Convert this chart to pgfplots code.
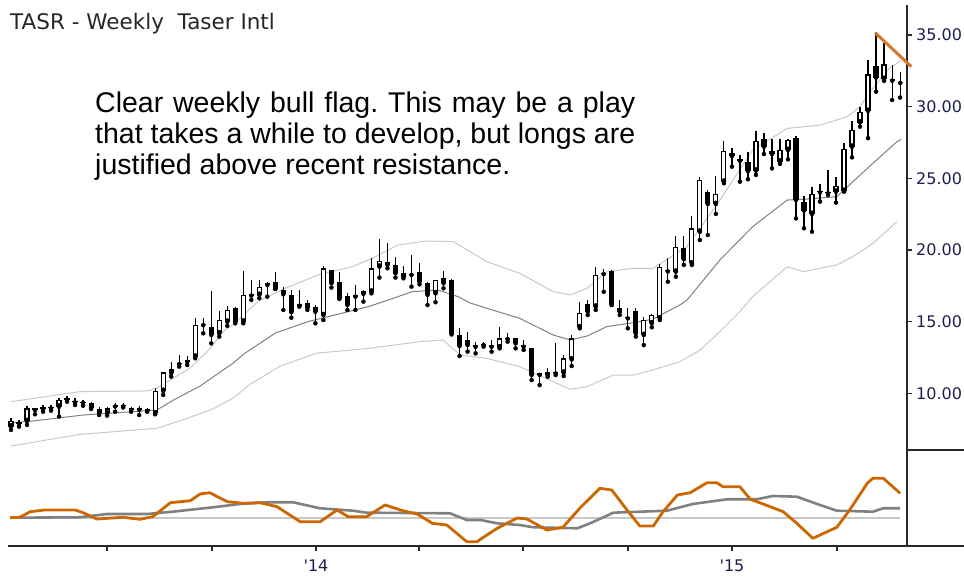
\documentclass[border=0pt]{standalone}
\usepackage{pgfplots}
\pgfplotsset{compat=1.18}
\usepackage{pgfplotstable}
\usepackage{fontspec}
\setmainfont{DejaVu Sans}
\newfontfamily\dvs{DejaVu Sans}
\newfontfamily\arial{Liberation Sans}
\frenchspacing

\definecolor{orng}{RGB}{204,102,0}
\definecolor{trend}{RGB}{214,118,40}
\definecolor{midg}{RGB}{128,128,128}
\definecolor{lightg}{RGB}{200,200,200}
\definecolor{labc}{RGB}{30,30,80}
\definecolor{axc}{RGB}{40,40,40}

% up (hollow) candles
\pgfplotstableread{
k O H L C
0 7.67 8.25 7.44 8.06
2 8.06 9.13 7.79 8.95
6 9.06 9.69 8.37 9.53
12 8.60 9.06 8.44 8.95
18 8.60 10.39 8.53 10.16
19 10.16 11.51 9.88 11.46
23 12.55 15.23 12.44 14.76
26 14.18 15.74 13.95 15.11
27 14.98 16.06 14.70 15.80
29 15.00 18.53 14.88 16.86
31 16.86 17.90 16.63 17.44
39 15.45 18.88 15.11 18.72
45 17.09 19.41 16.97 18.72
46 18.83 20.76 18.07 19.23
53 16.97 17.90 16.35 17.90
61 13.20 14.64 13.13 13.83
69 11.43 12.67 11.20 12.43
70 12.36 14.06 11.90 13.83
71 14.60 16.39 14.53 15.62
73 16.04 18.83 15.81 18.25
79 14.06 15.34 13.36 15.11
80 14.88 15.53 14.60 15.46
81 15.23 19.02 15.11 18.83
83 18.48 20.97 18.13 20.22
85 19.06 22.37 18.95 21.51
86 21.27 25.06 20.69 24.88
88 23.20 25.16 22.51 23.90
89 24.76 27.62 24.65 26.93
93 25.53 28.32 25.23 27.62
96 26.16 27.72 26.00 26.97
97 26.97 27.72 26.32 27.67
100 22.51 24.37 21.27 23.90
103 24.06 25.07 23.30 24.46
104 24.12 27.48 24.06 27.03
105 27.20 29.00 26.46 28.39
106 28.89 30.00 28.60 29.62
107 29.70 33.25 27.80 32.25
109 31.93 34.42 31.79 32.95
}\candup

% down (filled) candles and dojis
\pgfplotstableread{
k O H L C
1 7.96 8.13 7.67 7.86
3 8.95 8.98 8.53 8.82
4 9.05 9.18 8.71 8.90
5 9.04 9.18 8.78 8.94
7 9.65 9.83 9.41 9.55
8 9.46 9.65 9.18 9.36
9 9.42 9.53 9.13 9.32
10 9.30 9.41 8.90 9.00
11 8.90 9.06 8.48 8.62
13 9.17 9.30 8.71 9.07
14 9.20 9.30 9.00 9.08
15 8.94 9.06 8.71 8.84
16 8.94 9.13 8.48 8.84
17 8.87 8.95 8.71 8.77
20 11.67 12.16 11.16 11.40
21 12.13 12.67 11.86 12.03
22 12.29 12.60 11.97 12.19
24 14.85 15.27 14.18 14.75
25 14.65 17.13 13.48 14.07
28 15.93 16.04 14.88 15.00
30 16.91 17.90 16.51 16.81
32 17.67 17.79 16.74 17.55
33 17.79 18.44 17.28 17.28
34 17.20 17.44 15.81 16.90
35 16.86 17.20 15.27 15.65
36 16.21 17.20 16.04 16.11
37 16.28 16.51 15.81 15.97
38 16.04 16.16 14.88 15.69
40 18.60 18.62 17.37 17.67
41 17.79 18.48 16.58 16.63
42 16.79 16.97 15.81 16.16
43 16.84 17.55 15.81 16.74
44 17.14 17.20 16.39 16.93
47 19.14 20.46 18.72 18.95
48 18.95 19.53 18.07 18.37
49 18.37 18.90 18.02 18.14
50 18.35 19.65 17.44 18.25
51 18.48 19.07 17.60 17.79
52 17.67 17.79 16.16 16.86
54 18.02 18.53 17.32 17.67
55 17.90 17.95 14.10 14.18
56 14.06 14.53 12.60 13.29
57 13.71 14.30 12.90 13.36
58 13.34 13.60 12.78 13.24
59 13.46 13.60 13.25 13.36
60 13.34 13.71 12.90 13.24
62 13.88 14.18 13.60 13.78
63 13.83 13.85 13.13 13.48
64 13.35 13.71 13.02 13.25
65 13.13 13.15 10.92 11.27
66 11.38 11.39 10.57 11.28
67 11.50 11.74 11.15 11.27
68 11.48 13.53 11.27 11.38
72 16.23 16.50 15.46 15.69
74 18.41 18.64 17.08 18.31
75 18.55 18.60 16.16 16.16
76 15.97 16.50 15.46 15.69
77 15.32 15.92 14.53 15.22
78 15.76 15.92 13.95 14.18
82 18.60 19.41 17.78 18.50
84 20.11 20.97 18.95 19.35
87 24.06 24.18 21.04 23.20
90 26.74 27.09 25.81 26.55
91 26.32 26.62 24.76 26.22
92 26.10 26.86 24.93 25.50
94 27.72 28.18 26.69 27.20
95 26.93 27.72 25.69 26.69
98 27.79 27.95 22.20 23.48
99 23.37 23.76 21.51 22.74
101 24.11 24.60 23.37 24.01
102 24.05 25.58 23.83 23.95
108 32.86 35.18 31.04 32.02
110 31.91 32.90 30.46 31.81
111 31.75 32.44 30.63 31.65
}\canddn

\pgfplotstableread{
k p
0 9.41
8.6 10.11
17.0 10.16
18.2 10.34
22.3 11.74
24.5 12.9
26.7 14.41
27.7 14.76
30.8 16.39
34.2 17.32
38.3 18.25
42.6 18.83
45.1 19.41
48.3 20.34
51.7 20.62
55.2 20.58
59.4 19.18
63.5 18.37
67.7 17.09
69.8 16.86
71.9 17.32
74.4 18.48
77.7 18.72
80.1 18.7
84.4 20.23
88.5 23.48
92.6 26.97
96.9 28.48
101.0 28.7
104.4 29.3
106.0 30.0
107.2 31.0
109.7 32.7
111.1 33.2
}\bandup

\pgfplotstableread{
k p
0 7.95
2.1 8.02
9.0 8.48
18.2 8.83
20.2 9.5
23.6 10.5
27.7 12.09
29.2 12.79
33.0 14.2
37.1 15.0
41.3 15.58
44.6 16.04
47.6 16.6
50.1 17.09
53.3 17.2
55.8 16.74
57.3 16.3
59.4 15.93
63.5 15.23
67.7 14.06
69.8 13.72
71.9 13.99
74.4 14.65
77.7 14.92
80.1 15.16
83.5 16.16
84.4 16.5
88.5 19.3
92.6 21.62
96.9 23.48
98.9 23.53
103.1 23.72
105.1 24.76
107.6 26.04
110.6 27.55
111.1 27.7
}\bandmid

\pgfplotstableread{
k p
0 6.32
8.6 7.13
18.2 7.55
22.0 8.25
25.2 8.9
27.7 9.65
29.8 10.6
33.6 11.9
38.2 12.8
44.2 13.1
51.1 13.6
53.9 13.72
56.1 12.67
59.4 12.43
63.5 11.86
67.7 10.81
69.8 10.27
71.9 10.46
75.2 11.27
77.7 11.27
80.1 11.62
83.5 12.2
86.0 13.0
88.5 14.3
91.0 15.7
92.6 16.74
96.9 18.83
98.9 18.48
103.1 18.95
105.1 19.53
107.6 20.46
110.6 21.97
}\bandlo

\pgfplotstableread{
k v
-0.1 0.3
1.1 0.7
2.4 6.3
4.2 8
8.0 8
9.0 5.3
10.7 -1
14.0 0.7
16.1 -1.3
17.7 1.3
19.9 15.3
22.4 17.3
23.6 24
24.8 25.3
27.0 16.3
29.0 14.7
31.1 15.3
33.2 11.3
36.1 -3.7
38.6 -3.7
40.7 8
42.1 1.3
44.4 1.3
46.7 13
48.9 7.3
50.7 4
52.6 -5.3
54.4 -7
56.9 -23.7
58.2 -23.7
58.6 -21.3
60.7 -10.3
63.2 0
64.4 -1
66.9 -12
68.9 -9.3
71.0 9.7
73.5 29.7
75.0 28
76.9 8
78.5 -8
80.2 -8
81.4 6.3
83.2 23
84.8 25.3
86.9 35.3
88.1 35.3
88.9 31.3
91.0 31.3
92.3 18.7
93.9 14
96.4 6.3
98.1 -5.3
100.1 -20.3
103.1 -9.3
104.7 8
106.9 34.7
107.6 39.7
108.9 39.7
111.0 24.7
}\oscdata

\pgfplotstableread{
k v
-0.1 0.3
8.6 0.7
12.0 4
17.0 4
20.2 6.3
25.2 10.7
28.6 14
32.0 15.7
35.2 15.7
38.6 9.7
42.7 7.3
44.4 5.3
54.8 4.7
56.9 -2
58.6 -2
60.7 -5.3
63.5 -7
65.2 -9.3
70.7 -10.3
72.3 -5.3
75.2 5.3
81.9 7.3
85.1 14
89.4 18.7
93.1 18.7
95.1 22
98.1 21.3
101.0 13
103.1 7.3
107.6 6.3
108.9 9.7
111.0 9.7
}\sigdata

\pgfplotsset{
  wick/.style={only marks, mark=none, forget plot,
    error bars/.cd, y dir=plus, y explicit, error mark=none,
    error bar style={draw=black, solid, line width=1.2pt}},
  body/.style={only marks, mark=none, forget plot,
    error bars/.cd, y dir=plus, y explicit, error mark=none,
    error bar style={draw=black, solid, line width=5.2pt}},
  inner/.style={only marks, mark=none, forget plot,
    error bars/.cd, y dir=plus, y explicit, error mark=none,
    error bar style={draw=white, solid, line width=2.8pt}},
}

\begin{document}
\begin{tikzpicture}
\path[use as bounding box] (0,0) rectangle (964pt,583pt);

\begin{axis}[
  at={(8pt,133pt)}, anchor=south west,
  width=899pt, height=445pt, scale only axis,
  xmin=-0.375, xmax=111.86, ymin=6.04, ymax=37.09,
  axis x line=none, axis y line*=right,
  y axis line style={line width=1.3pt, draw=axc, -},
  ytick={10,15,20,25,30,35},
  yticklabels={10.00,15.00,20.00,25.00,30.00,35.00},
  tick align=outside, major tick length=5pt,
  ytick style={line width=1.2pt, draw=axc},
  yticklabel style={font=\dvs\fontsize{16}{19}\selectfont, text=labc, anchor=west, inner sep=0pt, xshift=4pt},
  clip=false,
]
\addplot[lightg, line width=1pt] table[x=k,y=p] {\bandup};
\addplot[lightg, line width=1pt] table[x=k,y=p] {\bandlo};
\addplot[midg, line width=1pt] table[x=k,y=p] {\bandmid};

\addplot[wick] table[x=k, y=L, y error expr=\thisrow{H}-\thisrow{L}] {\candup};
\addplot[wick] table[x=k, y=L, y error expr=\thisrow{H}-\thisrow{L}] {\canddn};
\addplot[body] table[x=k, y=C, y error expr=\thisrow{O}-\thisrow{C}] {\canddn};
\addplot[body] table[x=k, y=O, y error expr=\thisrow{C}-\thisrow{O}] {\candup};
\addplot[inner] table[x=k, y expr=\thisrow{O}+0.09, y error expr=\thisrow{C}-\thisrow{O}-0.18] {\candup};

\addplot[trend, line width=3pt] coordinates {(107.87,35.16) (112.4,32.79)};
\end{axis}

\begin{axis}[
  at={(8pt,37pt)}, anchor=south west,
  width=899pt, height=96pt, scale only axis,
  xmin=-0.375, xmax=111.86, ymin=-28, ymax=68,
  axis x line*=bottom, axis y line*=right,
  x axis line style={line width=1.3pt, draw=axc, -},
  y axis line style={line width=1.3pt, draw=axc, -},
  ytick=\empty,
  xtick={11.99,25.09,38.08,50.94,63.92,77.03,90.01,103.12},
  xticklabels={,,'14,,,,'15,},
  tick align=outside, major tick length=5pt,
  xtick style={line width=1.2pt, draw=axc},
  xticklabel style={font=\dvs\fontsize{16}{19}\selectfont, text=labc, yshift=-5pt},
  clip=false,
]
\addplot[lightg, line width=1.2pt] coordinates {(-0.1,0) (111.0,0)};
\addplot[midg, line width=2.6pt, line join=round] table[x=k,y=v] {\sigdata};
\addplot[orng, line width=2.8pt, line join=round] table[x=k,y=v] {\oscdata};
\coordinate (botR) at (rel axis cs:1,0);
\coordinate (topR) at (rel axis cs:1,1);
\end{axis}
\draw[line width=1.3pt, draw=axc] (botR) -- (964pt,0 |- botR);
\draw[line width=1.3pt, draw=axc] (topR) -- (964pt,0 |- topR);

\node[anchor=base west, inner sep=0pt, font=\dvs\fontsize{21.5}{25}\selectfont, text=black!85] at (10pt,553pt) {TASR - Weekly\ \ Taser Intl};
\node[anchor=base west, inner sep=0pt, font=\arial\fontsize{28.5}{31}\selectfont] at (95pt,470.5pt) {\makebox[540pt][s]{Clear weekly bull flag. This may be a play}};
\node[anchor=base west, inner sep=0pt, font=\arial\fontsize{28.5}{31}\selectfont] at (95pt,439.5pt) {\makebox[540pt][s]{that takes a while to develop, but longs are}};
\node[anchor=base west, inner sep=0pt, font=\arial\fontsize{28.5}{31}\selectfont] at (95pt,408.5pt) {justified above recent resistance.};
\end{tikzpicture}
\end{document}
